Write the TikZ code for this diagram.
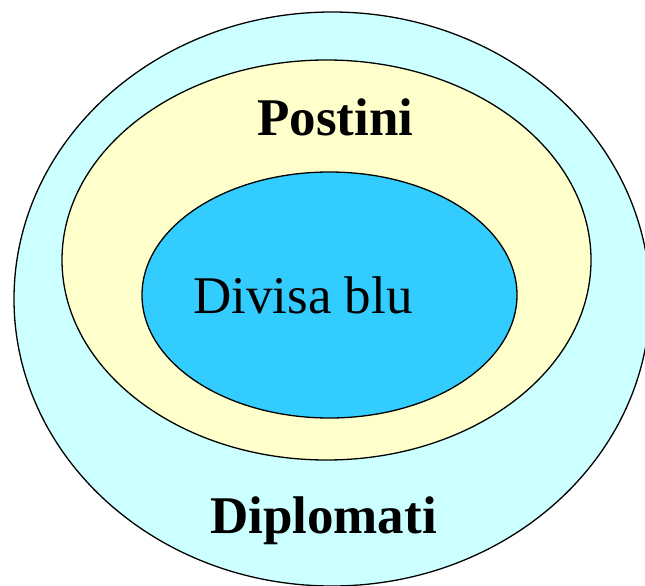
\documentclass[tikz,border=0pt]{standalone}
\usepackage{fontspec}
\setmainfont{Liberation Serif}
\usepackage{xcolor}
\usetikzlibrary{shapes.geometric}

\definecolor{outercyan}{HTML}{CCFFFF}
\definecolor{middleyellow}{HTML}{FFFFCC}
\definecolor{innerblue}{HTML}{33CCFF}

\begin{document}
\begin{tikzpicture}[
    x=1pt, y=-1pt,
    setshape/.style={ellipse, draw, line width=1.3pt, inner sep=0pt},
    setname/.style={anchor=base, inner sep=0pt, font=\fontsize{53}{60}\selectfont}
]
\useasboundingbox (0,0) rectangle (645,586);
\clip (0,0) rectangle (645,586);
% the three nested sets
\node[setshape, fill=outercyan, minimum width=636, minimum height=574] (diplomati) at (332,299) {};
\node[setshape, fill=middleyellow, minimum width=529, minimum height=400] (postini) at (326.5,260) {};
\node[setshape, fill=innerblue, minimum width=375, minimum height=246] (divisa) at (329.5,295) {};
% names
\node[setname, font=\fontsize{53}{60}\selectfont\bfseries] (postinitext) at (335.5,135) {Postini};
\node[setname] (divisatext) at (303,313) {Divisa blu};
\node[setname, font=\fontsize{53}{60}\selectfont\bfseries] (diplomatitext) at (323.5,533) {Diplomati};
\end{tikzpicture}
\end{document}
